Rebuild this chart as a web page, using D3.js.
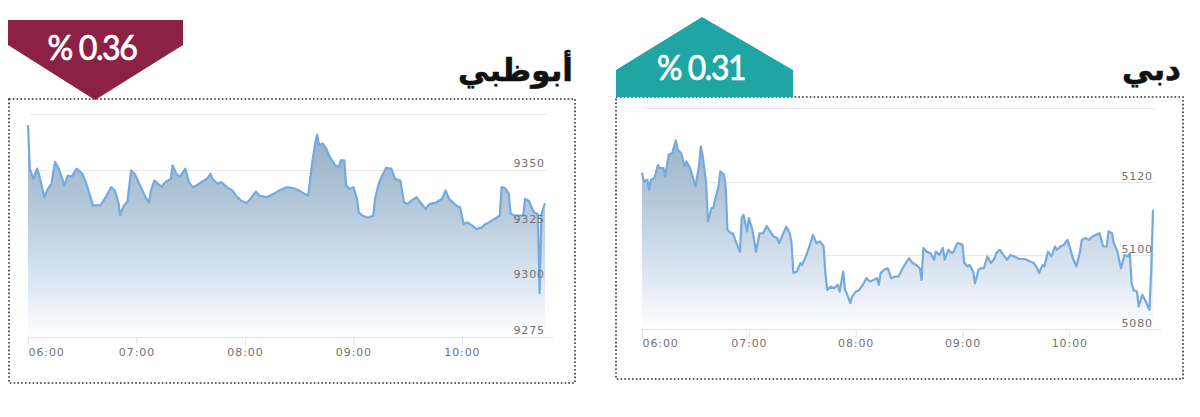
<!DOCTYPE html>
<html>
<head>
<meta charset="utf-8">
<script src="https://cdn.jsdelivr.net/npm/d3@7/dist/d3.min.js"></script>
<style>
  body { margin: 0; background: #fff; }
  svg { display: block; }
  .rotulo { font-family: "DejaVu Sans", sans-serif; font-size: 11px; fill: #727272; letter-spacing: 0.9px; }
  .titulo { font-family: "DejaVu Sans", sans-serif; font-weight: bold; font-size: 31px; fill: #111; stroke: #111; stroke-width: 0.6px; }
  .variacao { font-family: Lato, sans-serif; font-size: 34px; fill: #fff; stroke: #fff; stroke-width: 0.7px; letter-spacing: -1.5px; }
</style>
</head>
<body>
<svg width="1200" height="417"></svg>
<script>
// Horas do eixo x (comum aos dois mercados)
var horas = ["06:00", "07:00", "08:00", "09:00", "10:00"];

// Abu Dhabi
var adTitulo = "أبوظبي",
    adVariacao = "% 0.36";
var adGrade = [9275, 9300, 9325, 9350, 9375];
var adRotulos = [9275, 9300, 9325, 9350];
var adTempos = ["06:00","06:01","06:02","06:03","06:05","06:06","06:08","06:09","06:11","06:13",
  "06:14","06:15","06:17","06:19","06:20","06:22","06:24","06:27","06:30","06:32",
  "06:34","06:36","06:38","06:40","06:43","06:46","06:48","06:50","06:51","06:53",
  "06:55","06:57","06:59","07:02","07:05","07:07","07:08","07:10","07:12","07:14",
  "07:16","07:19","07:20","07:22","07:24","07:27","07:29","07:31","07:33","07:36",
  "07:39","07:41","07:42","07:45","07:47","07:50","07:53","07:55","07:58","08:01",
  "08:03","08:06","08:08","08:12","08:16","08:19","08:23","08:27","08:30","08:33",
  "08:35","08:37","08:39","08:40","08:41","08:43","08:45","08:47","08:50","08:52",
  "08:53","08:55","08:56","08:58","09:00","09:02","09:03","09:05","09:08","09:11",
  "09:12","09:14","09:16","09:18","09:21","09:23","09:26","09:28","09:30","09:32",
  "09:35","09:37","09:40","09:42","09:46","09:49","09:51","09:53","09:57","09:59",
  "10:01","10:03","10:06","10:08","10:11","10:13","10:15","10:18","10:21","10:22",
  "10:24","10:26","10:27","10:30","10:34","10:35","10:37","10:39","10:40","10:42",
  "10:43","10:44","10:46"];
var adValores = [9370,9350.5,9348.2,9345.9,9350.5,9348.2,9341.4,9337.7,9341.4,9343.7,
  9349.1,9353.5,9350.5,9345.9,9342.9,9347.4,9346.8,9350.5,9348.2,9344.5,
  9339.2,9333.9,9334.2,9333.9,9337.7,9342.2,9340.7,9335.4,9329.7,9333.9,
  9335.6,9349.7,9348.2,9342.9,9337.7,9335.4,9340.7,9345.2,9343.7,9342.3,
  9344.5,9345.9,9352,9348.2,9346.8,9350.5,9344.5,9342.2,9342.9,9344.5,
  9345.9,9348.2,9345.9,9343.7,9344.5,9342.2,9340.7,9338.4,9336.1,9335.1,
  9336.9,9340.2,9338.4,9337.7,9339.2,9340.7,9342.2,9341.7,9340.7,9339.2,
  9338.4,9352,9362.5,9365.8,9361,9361.8,9359.5,9355.7,9352,9351.2,
  9354.2,9354.2,9342.9,9341.4,9342.2,9336.9,9330.9,9329.4,9328.6,9329.4,
  9336.9,9343.7,9347.4,9350.8,9350.5,9345.9,9345.2,9335.4,9334.6,9336.1,
  9337.7,9335.4,9332.4,9334.6,9335.4,9336.9,9340.7,9336.9,9333.9,9333.2,
  9325.6,9326.4,9324.8,9323.4,9324.1,9325.6,9326.4,9327.9,9329.4,9342.2,
  9341.7,9339.2,9330.1,9329.4,9329.4,9336.9,9336.1,9332.4,9330.9,9330.1,
  9294.7,9330.1,9335];

// Dubai
var dbTitulo = "دبي",
    dbVariacao = "% 0.31";
var dbGrade = [5080, 5100, 5120, 5140];
var dbRotulos = [5080, 5100, 5120];
var dbTempos = ["06:00","06:01","06:03","06:04","06:05","06:07","06:09","06:10","06:12","06:13",
  "06:15","06:17","06:19","06:20","06:22","06:24","06:25","06:27","06:29","06:30",
  "06:32","06:33","06:34","06:36","06:37","06:39","06:40","06:41","06:43","06:44",
  "06:46","06:47","06:48","06:50","06:51","06:53","06:55","06:56","06:57","06:59",
  "07:00","07:02","07:03","07:04","07:06","07:08","07:10","07:12","07:14","07:16",
  "07:17","07:19","07:21","07:23","07:24","07:25","07:27","07:29","07:30","07:32",
  "07:34","07:36","07:38","07:40","07:42","07:43","07:44","07:46","07:48","07:50",
  "07:51","07:53","07:54","07:55","07:57","07:58","08:00","08:02","08:04","08:06",
  "08:08","08:10","08:12","08:13","08:14","08:16","08:18","08:20","08:22","08:24",
  "08:26","08:27","08:30","08:32","08:34","08:36","08:37","08:38","08:40","08:42",
  "08:44","08:45","08:47","08:49","08:50","08:52","08:54","08:55","08:57","09:00",
  "09:01","09:03","09:04","09:06","09:07","09:09","09:10","09:12","09:14","09:16",
  "09:18","09:19","09:21","09:23","09:25","09:27","09:29","09:32","09:35","09:38",
  "09:40","09:42","09:43","09:45","09:46","09:48","09:50","09:52","09:53","09:55",
  "09:57","09:59","10:01","10:02","10:04","10:06","10:07","10:09","10:11","10:13",
  "10:15","10:17","10:19","10:21","10:22","10:24","10:25","10:27","10:29","10:31",
  "10:33","10:34","10:35","10:36","10:38","10:39","10:41","10:43","10:45","10:46",
  "10:47"];
var dbValores = [5122.4,5120.1,5120.5,5117.8,5120.5,5121,5124.6,5123.7,5123.7,5121.4,
  5127.3,5127.8,5131.2,5128.7,5127.8,5124.2,5125.5,5123.7,5120.5,5118.7,
  5124.2,5129.6,5127.3,5119.6,5109.2,5112.8,5112.8,5115.1,5118.7,5122.8,
  5121.9,5118.7,5106.9,5106,5106,5103.3,5101,5110.1,5111,5106.5,
  5110.1,5106.9,5104.2,5101,5106,5106,5108,5106.5,5105.1,5104.7,
  5103.3,5105.6,5107.8,5106,5103.3,5095.2,5095.6,5097.9,5097.4,5099.7,
  5102.4,5105.6,5103.3,5103.8,5102.4,5095.2,5090.6,5091.5,5091.1,5092,
  5090.1,5095.6,5090.6,5089.7,5087,5088.8,5090.1,5090.6,5092,5093.8,
  5092.9,5093.3,5093.8,5092,5095.2,5096.1,5096.5,5093.8,5094.2,5094.2,
  5096.1,5097,5099.2,5097.9,5097.4,5096.5,5093.3,5102,5101,5100.6,
  5098.8,5101,5100.1,5102,5098.8,5101.5,5100.6,5101,5103.3,5102.9,
  5097.9,5097,5097.4,5095.6,5092.4,5096.1,5096.5,5096.5,5099.7,5097.9,
  5099.2,5100.6,5101.5,5100.1,5098.8,5100.1,5099.7,5099,5099,5098.3,
  5097.9,5096.5,5095.2,5097.4,5097,5101,5099.7,5102.4,5101.5,5102.4,
  5102.9,5104.2,5101,5099.2,5097,5101,5104.2,5104.7,5104.2,5105.1,
  5105.6,5106,5102.4,5102.4,5106.5,5106,5103.3,5101,5096.5,5100.1,
  5099.7,5100.6,5092.4,5090.6,5090.1,5086.1,5089.3,5087.4,5085.2,5096,
  5112.4];

var svg = d3.select("svg");
var hora = d3.timeParse("%H:%M");

// Gradiente do preenchimento (um por painel, em coordenadas do painel)
var defs = svg.append("defs");

/*
 * Desenha um painel: moldura pontilhada, grade, área, linha,
 * rótulos dos eixos, título e selo da variação
 */
function painel(cfg) {
  var dados = cfg.tempos.map(function(t, i){ return {t: hora(t), v: cfg.valores[i]}; })
                        .filter(function(d){ return d.v != null; });

  var x = d3.scaleTime()
      .domain(d3.extent(dados, function(d){ return d.t; }))
      .range([cfg.plot.x0, cfg.plot.x1]);
  var y = d3.scaleLinear()
      .domain(d3.extent(cfg.grade))
      .range([cfg.plot.y0, cfg.plot.y1]);

  var g = svg.append("g");

  // moldura pontilhada
  g.append("rect")
      .attr("x", cfg.caixa.x0).attr("y", cfg.caixa.y0)
      .attr("width", cfg.caixa.x1 - cfg.caixa.x0)
      .attr("height", cfg.caixa.y1 - cfg.caixa.y0)
      .attr("fill", "none")
      .attr("stroke", "#2b2b2b")
      .attr("stroke-width", 1.6)
      .attr("stroke-dasharray", "1.6,2.2");

  // grade horizontal
  g.append("g")
    .selectAll("line")
    .data(cfg.grade)
    .enter().append("line")
      .attr("x1", cfg.plot.x0 + 2)
      .attr("x2", cfg.plot.x1 + 2)
      .attr("y1", function(d){ return Math.round(y(d)) + 0.5; })
      .attr("y2", function(d){ return Math.round(y(d)) + 0.5; })
      .attr("stroke", "#e8e8e8")
      .attr("stroke-width", 1);

  var grad = defs.append("linearGradient")
      .attr("id", cfg.id + "Grad")
      .attr("gradientUnits", "userSpaceOnUse")
      .attr("x1", 0).attr("x2", 0)
      .attr("y1", cfg.plot.y1).attr("y2", cfg.plot.y0);
  grad.append("stop").attr("offset", "0%").attr("stop-color", "#8ea8c0");
  grad.append("stop").attr("offset", "45%").attr("stop-color", "#b8cbdc");
  grad.append("stop").attr("offset", "80%").attr("stop-color", "#e2ebf5");
  grad.append("stop").attr("offset", "100%").attr("stop-color", "#ffffff");

  var area = d3.area()
      .x(function(d){ return x(d.t); })
      .y0(cfg.plot.y0)
      .y1(function(d){ return y(d.v); });
  var linha = d3.line()
      .x(function(d){ return x(d.t); })
      .y(function(d){ return y(d.v); });

  g.append("path")
      .datum(dados)
      .attr("d", area)
      .attr("fill", "url(#" + cfg.id + "Grad)");

  g.append("path")
      .datum(dados)
      .attr("d", linha)
      .attr("fill", "none")
      .attr("stroke", "#74aae0")
      .attr("stroke-width", 2.2)
      .attr("stroke-linejoin", "round");

  // eixo x: linha de base e marcas
  var eixoX = d3.axisBottom(x)
      .tickValues(horas.map(hora))
      .tickSize(8)
      .tickFormat(d3.timeFormat("%H:%M"));
  var gx = g.append("g")
      .attr("class", "rotulo")
      .attr("transform", "translate(0," + (Math.round(cfg.plot.y0) + 0.5) + ")")
      .call(eixoX);
  gx.select(".domain")
      .attr("d", "M" + cfg.plot.x0 + ",0H" + (cfg.plot.x1 + 8))
      .attr("stroke", "#dde3ea");
  gx.selectAll(".tick line").attr("stroke", "#dde3ea");
  gx.selectAll(".tick text")
      .attr("y", cfg.dyX)
      .attr("dy", null)
      .attr("class", "rotulo")
      .attr("text-anchor", function(d, i){ return i == 0 ? "start" : "middle"; });

  // rótulos do eixo y, acima da linha de grade, à direita
  g.append("g")
    .selectAll("text")
    .data(cfg.rotulos)
    .enter().append("text")
      .attr("class", "rotulo")
      .attr("x", cfg.plot.x1)
      .attr("y", function(d){ return y(d) - cfg.dyY; })
      .attr("text-anchor", "end")
      .text(function(d){ return d; });

  // título do mercado (ancorado pela borda direita)
  g.append("text")
      .attr("class", "titulo")
      .attr("x", cfg.caixa.x1 - 2)
      .attr("y", cfg.tituloY)
      .attr("text-anchor", "end")
      .text(cfg.titulo);

  // selo com a variação
  var s = cfg.selo;
  g.append("path")
      .attr("d", d3.line()(s.pontos) + "Z")
      .attr("fill", s.cor);
  g.append("text")
      .attr("class", "variacao")
      .attr("x", s.tx)
      .attr("y", s.ty)
      .attr("text-anchor", "middle")
      .attr("textLength", s.largura)
      .attr("lengthAdjust", "spacingAndGlyphs")
      .text(cfg.variacao);
}

painel({
  id: "ad",
  tempos: adTempos, valores: adValores,
  grade: adGrade, rotulos: adRotulos,
  titulo: adTitulo, variacao: adVariacao,
  caixa: {x0: 9, y0: 99, x1: 575, y1: 383},
  plot: {x0: 28, x1: 545, y0: 337, y1: 114},
  dyX: 18, dyY: 3, tituloY: 81,
  selo: {cor: "#8b2245", pontos: [[8, 20], [183, 20], [183, 45], [95, 100], [8, 45]],
         tx: 92, ty: 60, largura: 89}
});

painel({
  id: "db",
  tempos: dbTempos, valores: dbValores,
  grade: dbGrade, rotulos: dbRotulos,
  titulo: dbTitulo, variacao: dbVariacao,
  caixa: {x0: 616, y0: 97, x1: 1183, y1: 379},
  plot: {x0: 642, x1: 1153, y0: 329, y1: 108},
  dyX: 17, dyY: 2, tituloY: 80,
  selo: {cor: "#1fa5a3", pontos: [[616, 70], [702, 17], [793, 70], [793, 97], [616, 97]],
         tx: 701, ty: 80, largura: 88}
});
</script>
</body>
</html>
